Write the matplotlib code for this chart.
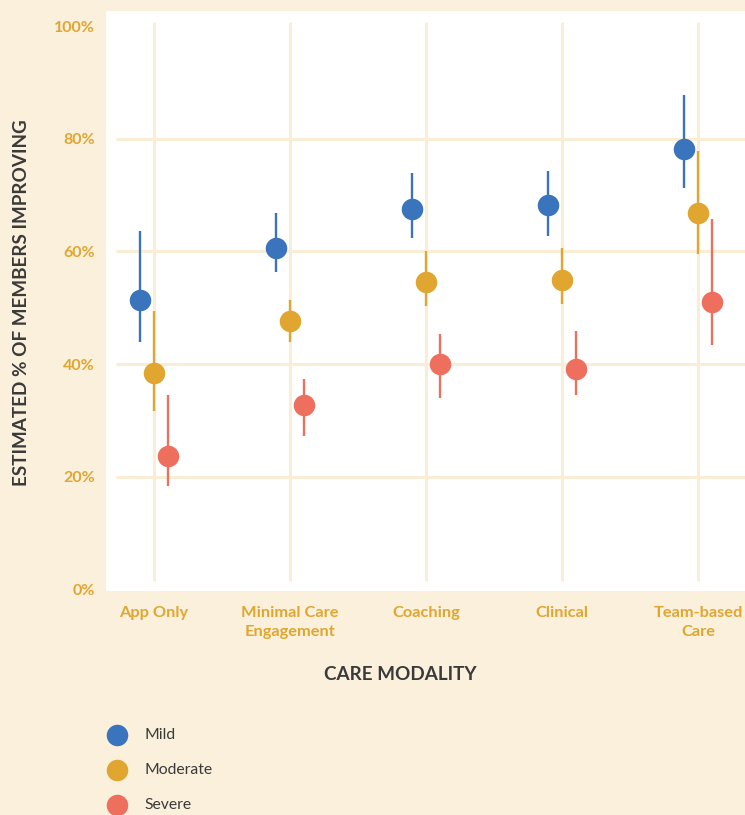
import numpy as np
import matplotlib
matplotlib.use('Agg')
import matplotlib.pyplot as plt

categories = ['App Only', 'Minimal Care\nEngagement', 'Coaching', 'Clinical', 'Team-based\nCare']
severity = ['Mild', 'Moderate', 'Severe']

# estimated % improving, with lower / upper interval bounds
mild = [51.4, 60.7, 67.6, 68.3, 78.2]
mild_lo = [44.0, 56.4, 62.3, 62.8, 71.3]
mild_hi = [63.7, 66.9, 74.0, 74.3, 87.7]

moderate = [38.5, 47.7, 54.6, 55.0, 66.9]
moderate_lo = [31.7, 44.0, 50.4, 50.7, 59.6]
moderate_hi = [49.5, 51.4, 60.1, 60.7, 77.9]

severe = [23.7, 32.8, 40.1, 39.2, 51.1]
severe_lo = [18.4, 27.3, 34.0, 34.5, 43.4]
severe_hi = [34.5, 37.4, 45.4, 45.9, 65.8]

y_ticks = [0, 20, 40, 60, 80, 100]

bg = '#FAF0DC'
grid_c = '#F9EDD6'
orange = '#E0A630'
dark = '#3A3A3A'
colors = ['#3A74BC', '#E0A630', '#EE6F5D']

plt.rcParams['font.family'] = ['Lato', 'DejaVu Sans']

fig = plt.figure(figsize=(7.45, 8.15), dpi=100)
fig.patch.set_facecolor(bg)
ax = fig.add_axes([106 / 745, 224 / 815, 639 / 745, 580 / 815])
ax.set_facecolor('white')
for s in ax.spines.values():
    s.set_visible(False)

x = np.arange(len(categories))
ax.set_xlim(-0.353, 4.346)
ax.set_ylim(-0.3, 102.7)

# grid lines
ax.hlines([20, 40, 60, 80], -0.28, 4.6, color=grid_c, lw=2.2, zorder=0)
ax.vlines(x, 1.5, 100.8, color=grid_c, lw=2.2, zorder=0)

series = [(mild, mild_lo, mild_hi), (moderate, moderate_lo, moderate_hi), (severe, severe_lo, severe_hi)]
offsets = [-0.105, 0.0, 0.105]
for (vals, lo, hi), off, c in zip(series, offsets, colors):
    xs = x + off
    ax.vlines(xs, lo, hi, color=c, lw=1.7, zorder=2)
    ax.plot(xs, vals, 'o', color=c, ms=15.5, mec='none', zorder=3)

ax.set_yticks(y_ticks)
ax.set_yticklabels([f'{t}%' for t in y_ticks], color=orange, fontsize=11.5, fontweight='bold')
ax.set_xticks(x)
ax.set_xticklabels(categories, color=orange, fontsize=11.8, fontweight='bold', linespacing=1.45)
ax.tick_params(axis='x', length=0, pad=11)
ax.tick_params(axis='y', length=0, pad=8)

fig.text(22 / 745, 1 - 303 / 815, 'ESTIMATED % OF MEMBERS IMPROVING', rotation=90,
         ha='center', va='center', color=dark, fontsize=13.6, fontweight='bold')
fig.text(400 / 745, 1 - 675 / 815, 'CARE MODALITY', ha='center', va='center',
         color=dark, fontsize=13.6, fontweight='bold')

# legend
for i, (name, c) in enumerate(zip(severity, colors)):
    yy = 1 - (735 + 35 * i) / 815
    fig.add_artist(plt.Line2D([117 / 745], [yy], marker='o', color=c, ms=15.5, mec='none',
                              transform=fig.transFigure))
    fig.text(144 / 745, yy, name, ha='left', va='center', color=dark, fontsize=11.3)

fig.savefig('out.png', dpi=100, facecolor=bg)
